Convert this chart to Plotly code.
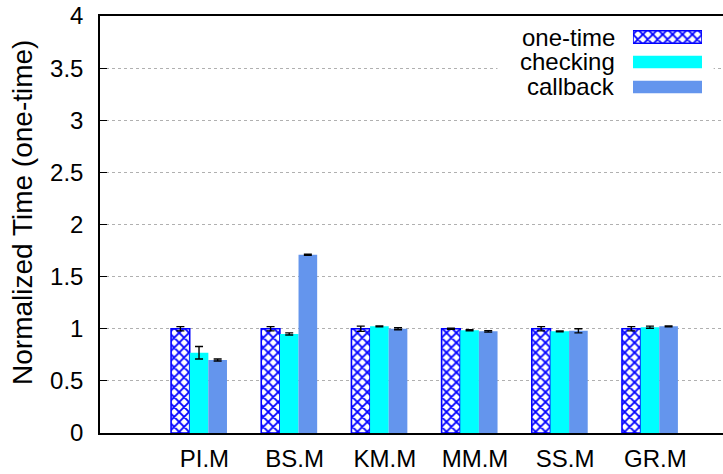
import plotly.graph_objects as go

# Benchmarks and normalized run times (relative to one-time)
categories = ["PI.M", "BS.M", "KM.M", "MM.M", "SS.M", "GR.M"]
one_time = [1.00, 1.00, 1.00, 1.00, 1.00, 1.00]
one_time_err = [0.02, 0.02, 0.025, 0.005, 0.02, 0.02]
checking = [0.77, 0.95, 1.023, 0.985, 0.975, 1.015]
checking_err = [0.06, 0.01, 0.005, 0.005, 0.004, 0.01]
callback = [0.70, 1.71, 1.00, 0.975, 0.98, 1.023]
callback_err = [0.01, 0.005, 0.01, 0.007, 0.02, 0.005]

series_names = ["one-time", "checking", "callback"]
y_ticks = [0, 0.5, 1, 1.5, 2, 2.5, 3, 3.5, 4]
y_title = "Normalized Time (one-time)"

FONT = "Liberation Sans"
BLUE = "#0000ff"
CYAN = "#00ffff"
CORNFLOWER = "#6495ed"

X_RANGE = [-1.098, 5.81]
Y_RANGE = [0, 4]

x_pos = list(range(len(categories)))
err_style = dict(type="data", color="black", thickness=1.4, width=4)

hatch = dict(color="white", line=dict(color=BLUE, width=1.6),
             pattern=dict(shape="x", fgcolor=BLUE, bgcolor="white",
                          size=7, solidity=0.45, fillmode="replace"))
styles = [
    hatch,
    dict(color=CYAN, line=dict(width=0)),
    dict(color=CORNFLOWER, line=dict(width=0)),
]

fig = go.Figure()
for name, vals, errs, style in zip(series_names,
                                   [one_time, checking, callback],
                                   [one_time_err, checking_err, callback_err],
                                   styles):
    fig.add_trace(go.Bar(
        x=x_pos, y=vals, name=name, marker=style,
        error_y=dict(array=errs, **err_style),
    ))

# Key swatches: one short horizontal bar per series on an overlay axis pair
for i, (name, style) in enumerate(zip(series_names, styles)):
    fig.add_trace(go.Bar(
        x=[1], y=[i], orientation="h", xaxis="x2", yaxis="y2", width=0.5,
        showlegend=False, hoverinfo="skip", marker=style, name=name,
    ))
    fig.add_annotation(
        x=0.830, y=i, xref="paper", yref="y2", text=name, showarrow=False,
        xanchor="right", yanchor="middle",
        font=dict(family=FONT, size=24, color="black"),
    )

# Y axis title, set slightly larger than the tick labels
fig.add_annotation(
    x=-0.1236, y=0.53, xref="paper", yref="paper", text=y_title,
    textangle=-90, showarrow=False, xanchor="center", yanchor="middle",
    font=dict(family=FONT, size=28, color="black"),
)


def frac_x(f):
    return X_RANGE[0] + f * (X_RANGE[1] - X_RANGE[0])


def frac_y(f):
    return Y_RANGE[0] + f * (Y_RANGE[1] - Y_RANGE[0])


# White box behind the key, hiding the grid
fig.add_shape(
    type="rect", xref="x", yref="y",
    x0=frac_x(0.638), x1=frac_x(0.985), y0=frac_y(0.795), y1=frac_y(0.985),
    fillcolor="white", line=dict(width=0), layer="between",
)

fig.update_layout(
    width=723, height=474,
    margin=dict(l=100, r=0, t=16, b=41),
    paper_bgcolor="white", plot_bgcolor="white",
    barmode="group", bargap=0.38, bargroupgap=0,
    showlegend=False,
    font=dict(family=FONT, size=24, color="black"),
    xaxis=dict(
        range=X_RANGE, tickmode="array",
        tickvals=[p + 0.06 for p in x_pos], ticktext=categories,
        showline=True, linecolor="black", linewidth=1.5, mirror=True,
        showgrid=False, zeroline=False, ticks="", ticklabelstandoff=3,
        tickfont=dict(family=FONT, size=24),
    ),
    yaxis=dict(
        range=Y_RANGE, tickmode="array", tickvals=y_ticks,
        ticktext=[f"{v:g}" for v in y_ticks],
        showline=True, linecolor="black", linewidth=1.5,
        ticks="inside", ticklen=7, tickcolor="black", tickwidth=1,
        showgrid=True, gridcolor="#b0b0b0", griddash="dot", gridwidth=1,
        zeroline=False, ticklabelstandoff=10,
        tickfont=dict(family=FONT, size=24),
    ),
    xaxis2=dict(domain=[0.8555, 0.9663], range=[0, 1], visible=False,
                fixedrange=True, anchor="y2"),
    yaxis2=dict(domain=[0.7998, 0.9796], range=[2.5, -0.5], visible=False,
                fixedrange=True, anchor="x2"),
)

fig.write_html("out.html")
